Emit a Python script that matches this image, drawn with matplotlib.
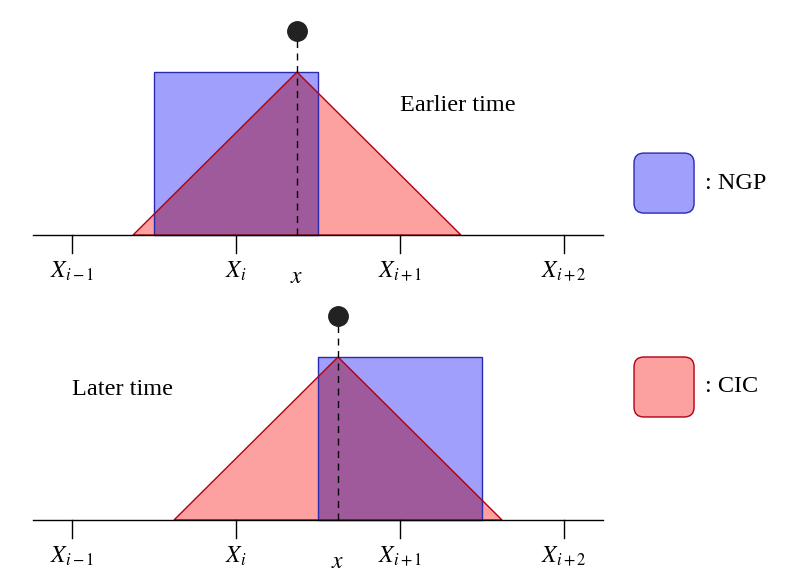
import matplotlib
matplotlib.use("Agg")
import matplotlib.pyplot as plt
from matplotlib.patches import Polygon, Rectangle, FancyBboxPatch

plt.rcParams['font.family'] = ['Liberation Serif', 'DejaVu Serif']
plt.rcParams['mathtext.fontset'] = 'stix'

grid_x = [0, 1, 2, 3]
grid_labels = [r'$X_{i-1}$', r'$X_i$', r'$X_{i+1}$', r'$X_{i+2}$']
particle_x = [1.372, 1.622]        # earlier, later
ngp_center = [1.0, 2.0]            # nearest grid point
panel_offset = [1.748, 0.0]
panel_titles = ['Earlier time', 'Later time']
title_pos = [(2.0, 2.545), (0.0, 0.80)]

blue_fill, blue_edge = '#a0a0fc', '#2a2ab0'
red_fill, red_edge = '#fca0a0', '#b00010'
purple = '#9e5a9a'

fig = plt.figure(figsize=(7.93, 5.87), dpi=100)
ax = fig.add_axes([0, 0, 1, 1])
ax.set_xlim(-72/164, (793-72)/164)
ax.set_ylim(-67/163, 520/163)
ax.axis('off')

for xp, xc, off, title, tp in zip(particle_x, ngp_center, panel_offset, panel_titles, title_pos):
    tri = Polygon([(xp-1, off), (xp, off+1), (xp+1, off)], closed=True,
                  facecolor=red_fill, edgecolor='none', zorder=2)
    ax.add_patch(tri)
    box = Rectangle((xc-0.5, off), 1, 1, facecolor=blue_fill, edgecolor='none', zorder=3)
    ax.add_patch(box)
    inter = Polygon([(xp-1, off), (xp, off+1), (xp+1, off)], closed=True,
                    facecolor=purple, edgecolor='none', zorder=4)
    ax.add_patch(inter)
    clip = Rectangle((xc-0.5, off), 1, 1, transform=ax.transData)
    inter.set_clip_path(clip)
    ax.add_patch(Rectangle((xc-0.5, off), 1, 1, facecolor='none', edgecolor=blue_edge, lw=1, zorder=5))
    ax.add_patch(Polygon([(xp-1, off), (xp, off+1), (xp+1, off)], closed=True,
                         facecolor='none', edgecolor=red_edge, lw=1, zorder=5))
    ax.plot([-0.238, 3.238], [off, off], color='black', lw=1, zorder=6)
    for gx, gl in zip(grid_x, grid_labels):
        ax.plot([gx, gx], [off, off-0.11], color='black', lw=1, zorder=6)
        ax.text(gx, off-0.22, gl, ha='center', va='center', fontsize=17)
    ax.text(xp, off-0.26, r'$x$', ha='center', va='center', fontsize=17)
    ax.plot([xp, xp], [off, off+1.25], color='black', lw=1, ls=(0, (5, 4)), zorder=7)
    ax.plot([xp], [off+1.25], 'o', color='#222222', markersize=14, zorder=8)
    ax.text(tp[0], tp[1], title, ha='left', va='center', fontsize=17.5)

legend_labels = [': NGP', ': CIC']
legend_fc = [blue_fill, red_fill]
legend_ec = [blue_edge, red_edge]
legend_y = [1.883, 0.632]
for lab, fc, ec, ly in zip(legend_labels, legend_fc, legend_ec, legend_y):
    ax.add_patch(FancyBboxPatch((3.427+0.06, ly+0.06), 0.366-0.12, 0.368-0.12,
                                boxstyle='round,pad=0.06', facecolor=fc, edgecolor=ec, lw=1))
    ax.text(3.86, ly+0.184, lab, ha='left', va='center', fontsize=17.5)

fig.savefig('out.png', dpi=100)
